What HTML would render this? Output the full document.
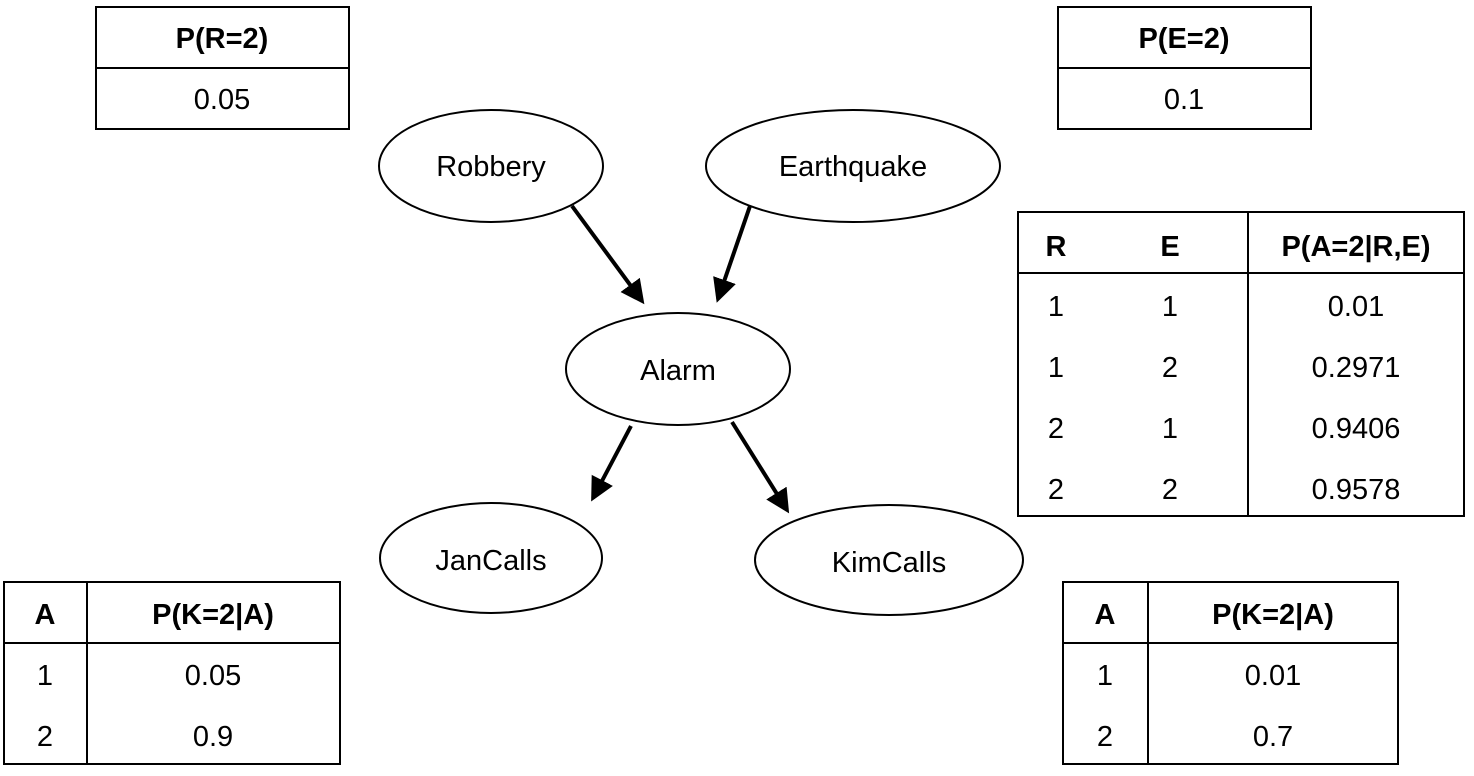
<!DOCTYPE html>
<html><head><style>
body{margin:0;background:#fff;}
svg{display:block;}
text{font-family:"Liberation Sans",sans-serif;font-size:29px;fill:#000;}
.b{font-weight:bold;}
</style></head><body>
<svg width="1474" height="776" viewBox="0 0 1474 776">
<defs><marker id="ah" markerWidth="6" markerHeight="6" refX="5" refY="3" orient="auto" markerUnits="strokeWidth"><path d="M0,0 L6,3 L0,6 z" fill="#000"/></marker></defs>
<g fill="none" stroke="#000" stroke-width="2">
<rect x="96" y="7" width="253" height="122"/><line x1="96" y1="68" x2="349" y2="68"/>
<rect x="1058" y="7" width="253" height="122"/><line x1="1058" y1="68" x2="1311" y2="68"/>
<rect x="1018" y="212" width="446" height="304"/><line x1="1018" y1="273" x2="1464" y2="273"/><line x1="1248" y1="212" x2="1248" y2="516"/>
<rect x="4" y="582" width="336" height="182"/><line x1="4" y1="643" x2="340" y2="643"/><line x1="87" y1="582" x2="87" y2="764"/>
<rect x="1063" y="582" width="335" height="182"/><line x1="1063" y1="643" x2="1398" y2="643"/><line x1="1148" y1="582" x2="1148" y2="764"/>
<ellipse cx="491" cy="166" rx="112" ry="56"/>
<ellipse cx="853" cy="166" rx="147" ry="56"/>
<ellipse cx="678" cy="369" rx="112" ry="56"/>
<ellipse cx="491" cy="558" rx="111" ry="55"/>
<ellipse cx="889" cy="560" rx="134" ry="55"/>
</g>
<g stroke="#000" stroke-width="4" marker-end="url(#ah)">
<line x1="572" y1="206" x2="642" y2="301"/>
<line x1="750" y1="206" x2="718" y2="299"/>
<line x1="631" y1="426" x2="593" y2="498"/>
<line x1="732" y1="422" x2="787" y2="510"/>
</g>
<g text-anchor="middle">
<text x="222" y="48" class="b">P(R=2)</text><text x="222" y="109">0.05</text>
<text x="1184" y="48" class="b">P(E=2)</text><text x="1184" y="109">0.1</text>
<text x="491" y="176">Robbery</text>
<text x="853" y="176">Earthquake</text>
<text x="678" y="380">Alarm</text>
<text x="491" y="570">JanCalls</text>
<text x="889" y="572">KimCalls</text>
<text x="1056" y="256" class="b">R</text><text x="1170" y="256" class="b">E</text><text x="1356" y="256" class="b">P(A=2|R,E)</text>
<text x="1056" y="316">1</text><text x="1170" y="316">1</text><text x="1356" y="316">0.01</text>
<text x="1056" y="377">1</text><text x="1170" y="377">2</text><text x="1356" y="377">0.2971</text>
<text x="1056" y="438">2</text><text x="1170" y="438">1</text><text x="1356" y="438">0.9406</text>
<text x="1056" y="499">2</text><text x="1170" y="499">2</text><text x="1356" y="499">0.9578</text>
<text x="45" y="624" class="b">A</text><text x="213" y="624" class="b">P(K=2|A)</text>
<text x="45" y="685">1</text><text x="213" y="685">0.05</text>
<text x="45" y="746">2</text><text x="213" y="746">0.9</text>
<text x="1105" y="624" class="b">A</text><text x="1273" y="624" class="b">P(K=2|A)</text>
<text x="1105" y="685">1</text><text x="1273" y="685">0.01</text>
<text x="1105" y="746">2</text><text x="1273" y="746">0.7</text>
</g>
</svg>
</body></html>
